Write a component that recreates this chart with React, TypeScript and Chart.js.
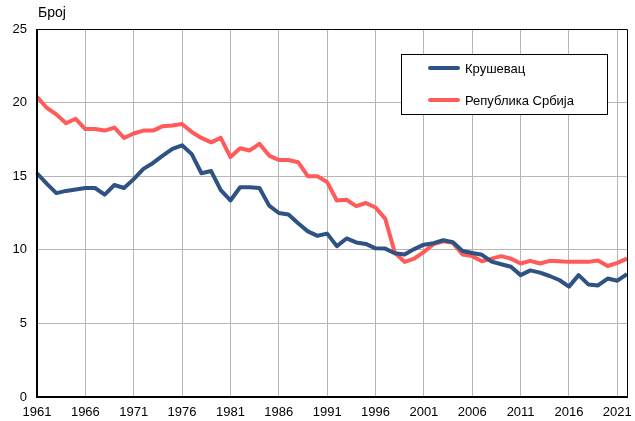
import React, { useEffect, useRef } from "react";
import { Chart, registerables } from "chart.js";

Chart.register(...registerables);

const years = [
  "1961", "1962", "1963", "1964", "1965", "1966", "1967", "1968", "1969", "1970",
  "1971", "1972", "1973", "1974", "1975", "1976", "1977", "1978", "1979", "1980",
  "1981", "1982", "1983", "1984", "1985", "1986", "1987", "1988", "1989", "1990",
  "1991", "1992", "1993", "1994", "1995", "1996", "1997", "1998", "1999", "2000",
  "2001", "2002", "2003", "2004", "2005", "2006", "2007", "2008", "2009", "2010",
  "2011", "2012", "2013", "2014", "2015", "2016", "2017", "2018", "2019", "2020",
  "2021", "2022",
];

const krusevac = [
  15.2, 14.5, 13.85, 14.0, 14.1, 14.2, 14.2, 13.75, 14.4, 14.2,
  14.8, 15.5, 15.9, 16.4, 16.85, 17.1, 16.5, 15.2, 15.35, 14.05,
  13.35, 14.25, 14.25, 14.2, 13.0, 12.5, 12.4, 11.8, 11.25, 10.95,
  11.1, 10.25, 10.77, 10.5, 10.4, 10.1, 10.08, 9.77, 9.68, 10.05,
  10.35, 10.45, 10.65, 10.52, 9.92, 9.78, 9.66, 9.2, 9.02, 8.85,
  8.28, 8.6, 8.45, 8.22, 7.95, 7.5, 8.28, 7.65, 7.58, 8.05,
  7.9, 8.35,
];

const srbija = [
  20.4, 19.65, 19.2, 18.6, 18.9, 18.2, 18.2, 18.1, 18.3, 17.6,
  17.9, 18.1, 18.1, 18.4, 18.45, 18.55, 18.0, 17.6, 17.3, 17.6,
  16.3, 16.9, 16.75, 17.2, 16.4, 16.1, 16.1, 15.95, 15.0, 15.0,
  14.6, 13.35, 13.4, 12.97, 13.18, 12.87, 12.12, 9.8, 9.18, 9.4,
  9.86, 10.38, 10.58, 10.47, 9.68, 9.57, 9.22, 9.4, 9.57, 9.4,
  9.07, 9.25, 9.07, 9.25, 9.23, 9.18, 9.18, 9.18, 9.27, 8.9,
  9.11, 9.4,
];

const seriesLabels = ["Крушевац", "Република Србија"];
const seriesColors = ["#2E5283", "#FF5B5B"];
const yTicks = [0, 5, 10, 15, 20, 25];
const yAxisTitle = "Број";
const tickEvery = 5;

const FONT = "'Liberation Sans', Arial, sans-serif";

const framePlugin = {
  id: "frame",
  afterDraw(chart: any) {
    const ctx = chart.ctx;
    const { left, top, right, bottom } = chart.chartArea;
    ctx.save();
    // plot frame
    ctx.strokeStyle = "#000";
    ctx.lineWidth = 1;
    ctx.beginPath();
    ctx.moveTo(left, top + 0.5);
    ctx.lineTo(right + 0.5, top + 0.5);
    ctx.lineTo(right + 0.5, bottom);
    ctx.stroke();
    ctx.lineWidth = 2;
    ctx.beginPath();
    ctx.moveTo(left, top);
    ctx.lineTo(left, bottom);
    ctx.lineTo(right + 1, bottom);
    ctx.stroke();

    // axis title
    ctx.fillStyle = "#000";
    ctx.font = `14px ${FONT}`;
    ctx.textAlign = "left";
    ctx.textBaseline = "alphabetic";
    ctx.fillText(yAxisTitle, 38, 17);

    // legend box
    const bx = 401.5, by = 54.5, bw = 206, bh = 60;
    ctx.fillStyle = "#fff";
    ctx.fillRect(bx, by, bw, bh);
    ctx.lineWidth = 1;
    ctx.strokeStyle = "#000";
    ctx.strokeRect(bx, by, bw, bh);
    ctx.font = `13px ${FONT}`;
    ctx.textBaseline = "middle";
    chart.data.datasets.forEach((ds: any, i: number) => {
      const yy = 68 + i * 32;
      ctx.strokeStyle = ds.borderColor;
      ctx.lineWidth = 4;
      ctx.lineCap = "round";
      ctx.beginPath();
      ctx.moveTo(430, yy);
      ctx.lineTo(458, yy);
      ctx.stroke();
      ctx.fillStyle = "#000";
      ctx.fillText(ds.label, 465, yy + 1);
    });
    ctx.restore();
  },
};

export default function App() {
  const ref = useRef<HTMLCanvasElement | null>(null);

  useEffect(() => {
    document.body.style.margin = "0";
    const canvas = ref.current;
    if (!canvas) return;
    const chart = new Chart(canvas, {
      type: "line",
      data: {
        labels: years,
        datasets: [
          {
            label: seriesLabels[0],
            data: krusevac,
            borderColor: seriesColors[0],
            backgroundColor: seriesColors[0],
            borderWidth: 4,
            pointRadius: 0,
            tension: 0,
            borderJoinStyle: "round",
          },
          {
            label: seriesLabels[1],
            data: srbija,
            borderColor: seriesColors[1],
            backgroundColor: seriesColors[1],
            borderWidth: 4,
            pointRadius: 0,
            tension: 0,
            borderJoinStyle: "round",
          },
        ],
      },
      options: {
        animation: false,
        responsive: true,
        maintainAspectRatio: false,
        layout: { padding: { top: 29, right: 5, left: 0, bottom: 0 } },
        plugins: {
          legend: { display: false },
          tooltip: { enabled: false },
          title: { display: false },
        },
        scales: {
          x: {
            type: "category",
            offset: false,
            border: { display: false },
            grid: {
              drawTicks: false,
              lineWidth: 1,
              color: (c: any) =>
                c.index % tickEvery === 0 && c.index !== 0 ? "#b5b5b5" : "rgba(0,0,0,0)",
            },
            ticks: {
              autoSkip: false,
              maxRotation: 0,
              minRotation: 0,
              padding: 8,
              color: "#000",
              font: { family: FONT, size: 13 },
              callback: (_v: any, i: number) => (i % tickEvery === 0 ? years[i] : ""),
            },
            afterFit: (s: any) => {
              s.height = 24;
            },
          },
          y: {
            min: yTicks[0],
            max: yTicks[yTicks.length - 1],
            border: { display: false },
            afterBuildTicks: (s: any) => {
              s.ticks = yTicks.map((v) => ({ value: v }));
            },
            grid: {
              drawTicks: false,
              lineWidth: 1,
              color: (c: any) =>
                c.tick && (c.tick.value === 0 || c.tick.value === 25)
                  ? "rgba(0,0,0,0)"
                  : "#b5b5b5",
            },
            ticks: {
              padding: 10,
              color: "#000",
              font: { family: FONT, size: 13 },
            },
            afterFit: (s: any) => {
              s.width = 37;
            },
          },
        },
      },
      plugins: [framePlugin],
    });
    return () => chart.destroy();
  }, []);

  return (
    <div style={{ position: "fixed", left: 0, top: 0, width: 635, height: 421 }}>
      <canvas ref={ref} />
    </div>
  );
}
